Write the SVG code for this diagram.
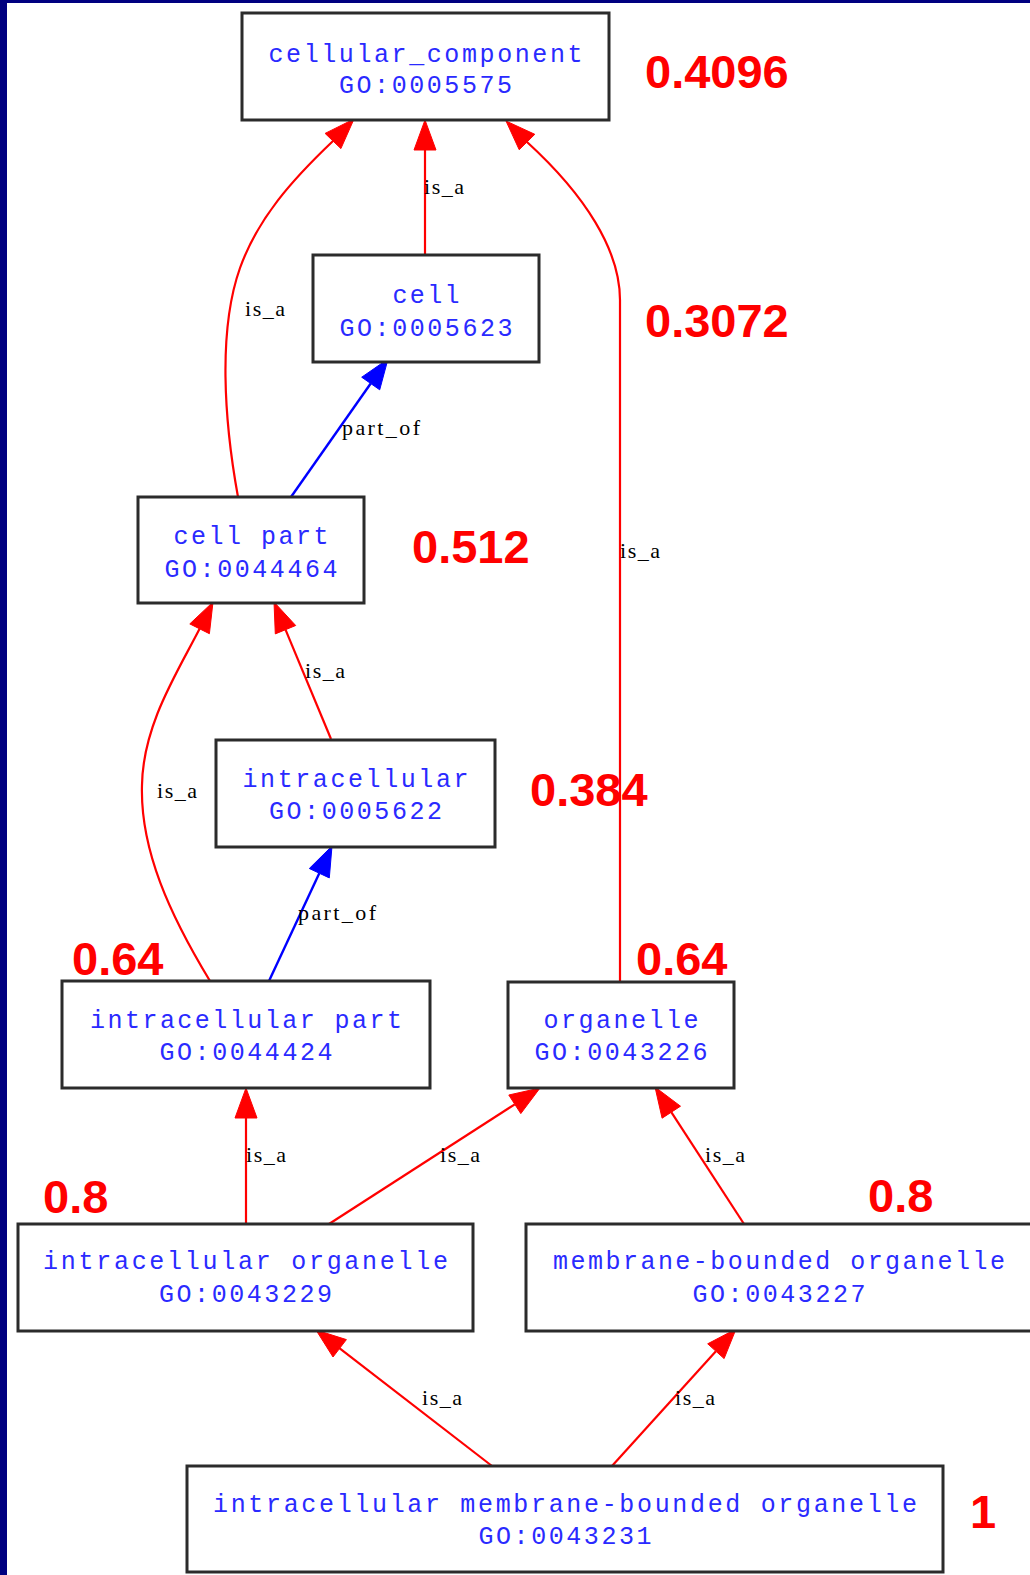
<svg xmlns="http://www.w3.org/2000/svg" width="1030" height="1575" viewBox="0 0 1030 1575">
  <style>
    .box { fill: #ffffff; stroke: #2b2b2b; stroke-width: 3; }
    .term { font-family: "Liberation Mono", "DejaVu Sans Mono", monospace; font-size: 25px; fill: #2a2aff; text-anchor: middle; }
    .rel { font-family: "Liberation Serif", "DejaVu Serif", serif; font-size: 22px; fill: #000000; }
    .score { font-family: "Liberation Sans", Arial, sans-serif; font-size: 47px; font-weight: bold; fill: #ff0000; }
    .isa { fill: none; stroke: #ff0000; stroke-width: 2.2; }
    .partof { fill: none; stroke: #0000ff; stroke-width: 2.4; }
    .isa-head { fill: #ff0000; stroke: #ff0000; stroke-width: 1; }
    .partof-head { fill: #0000ff; stroke: #0000ff; stroke-width: 1; }
  </style>

  <rect x="0" y="0" width="1030" height="1575" fill="#ffffff"/>
  <!-- frame -->
  <rect x="0" y="0" width="7" height="1575" fill="#000080"/>
  <rect x="0" y="0" width="1030" height="3" fill="#000080"/>

  <g id="connectors">
    <!-- cell is_a cellular_component -->
    <path class="isa" d="M425,255 L425,150"/>
    <polygon class="isa-head" points="425,120 436,150 414,150"/>
    <text class="rel" x="424" y="194" textLength="40" lengthAdjust="spacing">is_a</text>

    <!-- cell part is_a cellular_component -->
    <path class="isa" d="M238,497 C224,420 218,330 240,268 C258,218 292,180 333,141"/>
    <polygon class="isa-head" points="354,119 340.9,148.6 325.1,133.4"/>
    <text class="rel" x="245" y="316" textLength="40" lengthAdjust="spacing">is_a</text>

    <!-- organelle is_a cellular_component -->
    <path class="isa" d="M620,982 L620,300 C620,250 585,195 527,142"/>
    <polygon class="isa-head" points="506,121 534.8,134.3 519.2,149.7"/>
    <text class="rel" x="620" y="558" textLength="40" lengthAdjust="spacing">is_a</text>

    <!-- cell part part_of cell -->
    <path class="partof" d="M291,497 L370.7,383.5"/>
    <polygon class="partof-head" points="388,359 379.7,389.8 361.7,377.2"/>
    <text class="rel" x="342" y="435" textLength="78" lengthAdjust="spacing">part_of</text>

    <!-- intracellular is_a cell part -->
    <path class="isa" d="M331,739 L285.5,629.7"/>
    <polygon class="isa-head" points="274,602 295.7,625.5 275.3,633.9"/>
    <text class="rel" x="305" y="678" textLength="40" lengthAdjust="spacing">is_a</text>

    <!-- intracellular part is_a cell part -->
    <path class="isa" d="M210,981 C170,915 140,850 142,785 C143,725 177,673 199.6,628.8"/>
    <polygon class="isa-head" points="213,602 209.4,633.7 189.8,623.9"/>
    <text class="rel" x="157" y="798" textLength="40" lengthAdjust="spacing">is_a</text>

    <!-- intracellular part part_of intracellular -->
    <path class="partof" d="M269,981 L319.3,873.2"/>
    <polygon class="partof-head" points="332,846 329.3,877.9 309.3,868.5"/>
    <text class="rel" x="298" y="920" textLength="78" lengthAdjust="spacing">part_of</text>

    <!-- intracellular organelle is_a intracellular part -->
    <path class="isa" d="M246,1224 L246,1118"/>
    <polygon class="isa-head" points="246,1088 257,1118 235,1118"/>
    <text class="rel" x="246" y="1162" textLength="40" lengthAdjust="spacing">is_a</text>

    <!-- intracellular organelle is_a organelle -->
    <path class="isa" d="M329,1224 L514.8,1104.3"/>
    <polygon class="isa-head" points="540,1088 520.8,1113.6 508.8,1095"/>
    <text class="rel" x="440" y="1162" textLength="40" lengthAdjust="spacing">is_a</text>

    <!-- membrane-bounded organelle is_a organelle -->
    <path class="isa" d="M744,1224 L671.3,1112.2"/>
    <polygon class="isa-head" points="655,1087 680.5,1106.2 662.1,1118.2"/>
    <text class="rel" x="705" y="1162" textLength="40" lengthAdjust="spacing">is_a</text>

    <!-- intracellular membrane-bounded organelle is_a intracellular organelle -->
    <path class="isa" d="M492,1466 L339.7,1348.3"/>
    <polygon class="isa-head" points="316,1330 346.4,1339.6 333,1357"/>
    <text class="rel" x="422" y="1405" textLength="40" lengthAdjust="spacing">is_a</text>

    <!-- intracellular membrane-bounded organelle is_a membrane-bounded organelle -->
    <path class="isa" d="M612,1466 L715.9,1351.2"/>
    <polygon class="isa-head" points="736,1329 724.1,1358.6 707.7,1343.8"/>
    <text class="rel" x="675" y="1405" textLength="40" lengthAdjust="spacing">is_a</text>
  </g>

  <g id="cellular_component">
    <rect class="box" x="242" y="13" width="367" height="107"/>
    <text class="term" x="425.5" y="62" textLength="314" lengthAdjust="spacing">cellular_component</text>
    <text class="term" x="425.5" y="93" textLength="173" lengthAdjust="spacing">GO:0005575</text>
  </g>

  <g id="cell">
    <rect class="box" x="313" y="255" width="226" height="107"/>
    <text class="term" x="426" y="303" textLength="67" lengthAdjust="spacing">cell</text>
    <text class="term" x="426" y="336" textLength="173" lengthAdjust="spacing">GO:0005623</text>
  </g>

  <g id="cell_part">
    <rect class="box" x="138" y="497" width="226" height="106"/>
    <text class="term" x="251" y="544" textLength="155" lengthAdjust="spacing">cell part</text>
    <text class="term" x="251" y="577" textLength="173" lengthAdjust="spacing">GO:0044464</text>
  </g>

  <g id="intracellular">
    <rect class="box" x="216" y="740" width="279" height="107"/>
    <text class="term" x="355.5" y="787" textLength="226" lengthAdjust="spacing">intracellular</text>
    <text class="term" x="355.5" y="819" textLength="173" lengthAdjust="spacing">GO:0005622</text>
  </g>

  <g id="intracellular_part">
    <rect class="box" x="62" y="981" width="368" height="107"/>
    <text class="term" x="246" y="1028" textLength="312" lengthAdjust="spacing">intracellular part</text>
    <text class="term" x="246" y="1060" textLength="173" lengthAdjust="spacing">GO:0044424</text>
  </g>

  <g id="organelle">
    <rect class="box" x="508" y="982" width="226" height="106"/>
    <text class="term" x="621" y="1028" textLength="155" lengthAdjust="spacing">organelle</text>
    <text class="term" x="621" y="1060" textLength="173" lengthAdjust="spacing">GO:0043226</text>
  </g>

  <g id="intracellular_organelle">
    <rect class="box" x="18" y="1224" width="455" height="107"/>
    <text class="term" x="245.5" y="1269" textLength="405" lengthAdjust="spacing">intracellular organelle</text>
    <text class="term" x="245.5" y="1302" textLength="173" lengthAdjust="spacing">GO:0043229</text>
  </g>

  <g id="membrane_bounded_organelle">
    <rect class="box" x="526" y="1224" width="510" height="107"/>
    <text class="term" x="779" y="1269" textLength="452" lengthAdjust="spacing">membrane-bounded organelle</text>
    <text class="term" x="779" y="1302" textLength="173" lengthAdjust="spacing">GO:0043227</text>
  </g>

  <g id="intracellular_membrane_bounded_organelle">
    <rect class="box" x="187" y="1466" width="756" height="106"/>
    <text class="term" x="565" y="1512" textLength="704" lengthAdjust="spacing">intracellular membrane-bounded organelle</text>
    <text class="term" x="565" y="1544" textLength="173" lengthAdjust="spacing">GO:0043231</text>
  </g>

  <g id="scores">
    <text class="score" x="645" y="88">0.4096</text>
    <text class="score" x="645" y="337">0.3072</text>
    <text class="score" x="412" y="563">0.512</text>
    <text class="score" x="530" y="806">0.384</text>
    <text class="score" x="72" y="975">0.64</text>
    <text class="score" x="636" y="975">0.64</text>
    <text class="score" x="43" y="1213">0.8</text>
    <text class="score" x="868" y="1212">0.8</text>
    <text class="score" x="970" y="1528">1</text>
  </g>
</svg>
